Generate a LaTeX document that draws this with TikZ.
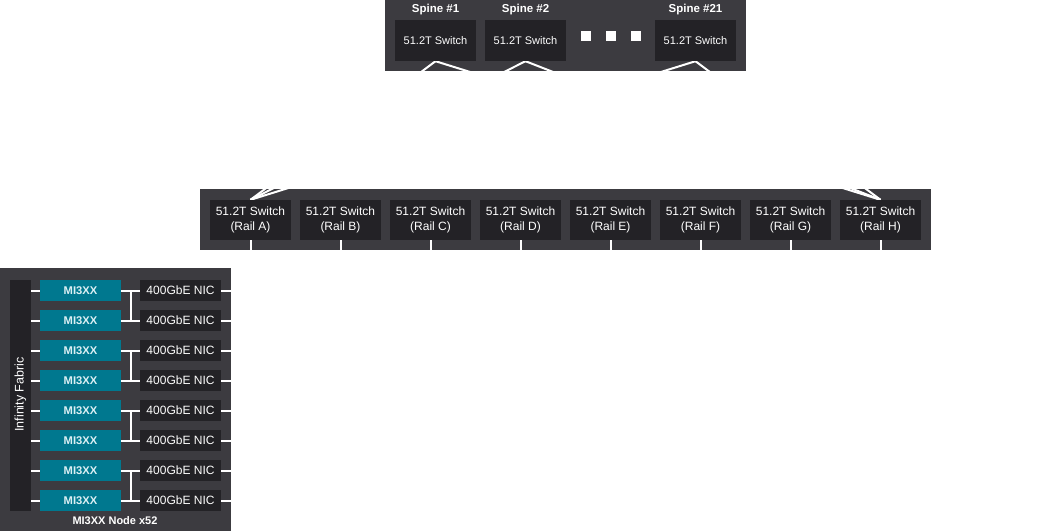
\documentclass[tikz,border=0pt]{standalone}
\usepackage{fontspec}
\setmainfont{Liberation Sans}
\definecolor{panelc}{HTML}{3C3B40}
\definecolor{boxc}{HTML}{232226}
\definecolor{tealc}{HTML}{00788F}
\definecolor{mitext}{HTML}{DDF0F4}
\pgfdeclarelayer{panel}
\pgfdeclarelayer{wires}
\pgfsetlayers{panel,wires,main}
\tikzset{
  darkbox/.style={fill=boxc, text=white, inner sep=0pt, minimum width=81pt},
  spinebox/.style={darkbox, minimum height=41pt, font=\fontsize{11}{12}\selectfont},
  railbox/.style={darkbox, minimum height=40pt, align=center, font=\fontsize{12}{15}\selectfont},
  nicbox/.style={darkbox, minimum height=21pt, font=\fontsize{12}{13}\selectfont},
  gpubox/.style={fill=tealc, text=mitext, inner sep=0pt, minimum width=81pt, minimum height=21pt, font=\bfseries\fontsize{11.2}{12}\selectfont},
  lbl/.style={text=white, inner sep=0pt, font=\bfseries\fontsize{11.5}{13}\selectfont},
  dotsq/.style={fill=white, inner sep=0pt, minimum size=10pt},
  wire/.style={draw=white, line width=2pt},
}
\begin{document}
\begin{tikzpicture}[x=1pt,y=-1pt]
\useasboundingbox (0,0) rectangle (1041,531);
\begin{pgfonlayer}{panel}
  \fill[panelc] (385,0) rectangle (746,71);
  \fill[panelc] (200,189) rectangle (931,250);
  \fill[panelc] (0,268) rectangle (231,531);
\end{pgfonlayer}
% spines
\node[lbl] (l1) at (435.5,10) {Spine \#1};
\node[lbl] (l2) at (525.5,10) {Spine \#2};
\node[lbl] (l21) at (695.5,10) {Spine \#21};
\node[spinebox] (s1) at (435.5,40.5) {51.2T Switch};
\node[spinebox] (s2) at (525.5,40.5) {51.2T Switch};
\node[spinebox] (s21) at (695.5,40.5) {51.2T Switch};
\node[dotsq] (d1) at (586,35.5) {};
\node[dotsq] (d2) at (611,35.5) {};
\node[dotsq] (d3) at (636,35.5) {};
% rails
\foreach \r [count=\i from 0] in {A,B,C,D,E,F,G,H} {
  \node[railbox] (r\r) at (250.5+90*\i,220) {51.2T Switch\\(Rail \r)};
}
% node
\node[fill=boxc, inner sep=0pt, minimum width=21pt, minimum height=231pt] (fab) at (20.5,395.5) {};
\node[text=white, rotate=90, inner sep=0pt, font=\fontsize{12.5}{13}\selectfont] (fabl) at (20.5,394.5) {Infinity Fabric};
\foreach \k in {1,...,8} {
  \node[gpubox] (g\k) at (80.5,260.5+30*\k) {MI3XX};
  \node[nicbox] (n\k) at (180.5,260.5+30*\k) {400GbE NIC};
}
\node[lbl, font=\bfseries\fontsize{11}{12}\selectfont] (cap) at (115,520.5) {MI3XX Node x52};
\begin{pgfonlayer}{wires}
  \foreach \s in {s1,s2,s21}
    \foreach \r in {A,H}
      \draw[wire] (\s.south) -- (r\r.north);
  \foreach \k/\r in {1/A,2/B,3/C,4/D,5/E,6/F,7/G,8/H} {
    \draw[wire] (fab.east |- g\k.west) -- (g\k.west);
    \draw[wire] (g\k.east) -- (n\k.west);
    \draw[wire] (n\k.east) -| (r\r.south);
  }
  \foreach \a/\b in {1/2,3/4,5/6,7/8} {
    \coordinate (ta\a) at (130.5,260.5+30*\a);
    \coordinate (tb\a) at (130.5,260.5+30*\b);
    \draw[wire] (ta\a) -- (tb\a);
  }
\end{pgfonlayer}
\end{tikzpicture}
\end{document}
